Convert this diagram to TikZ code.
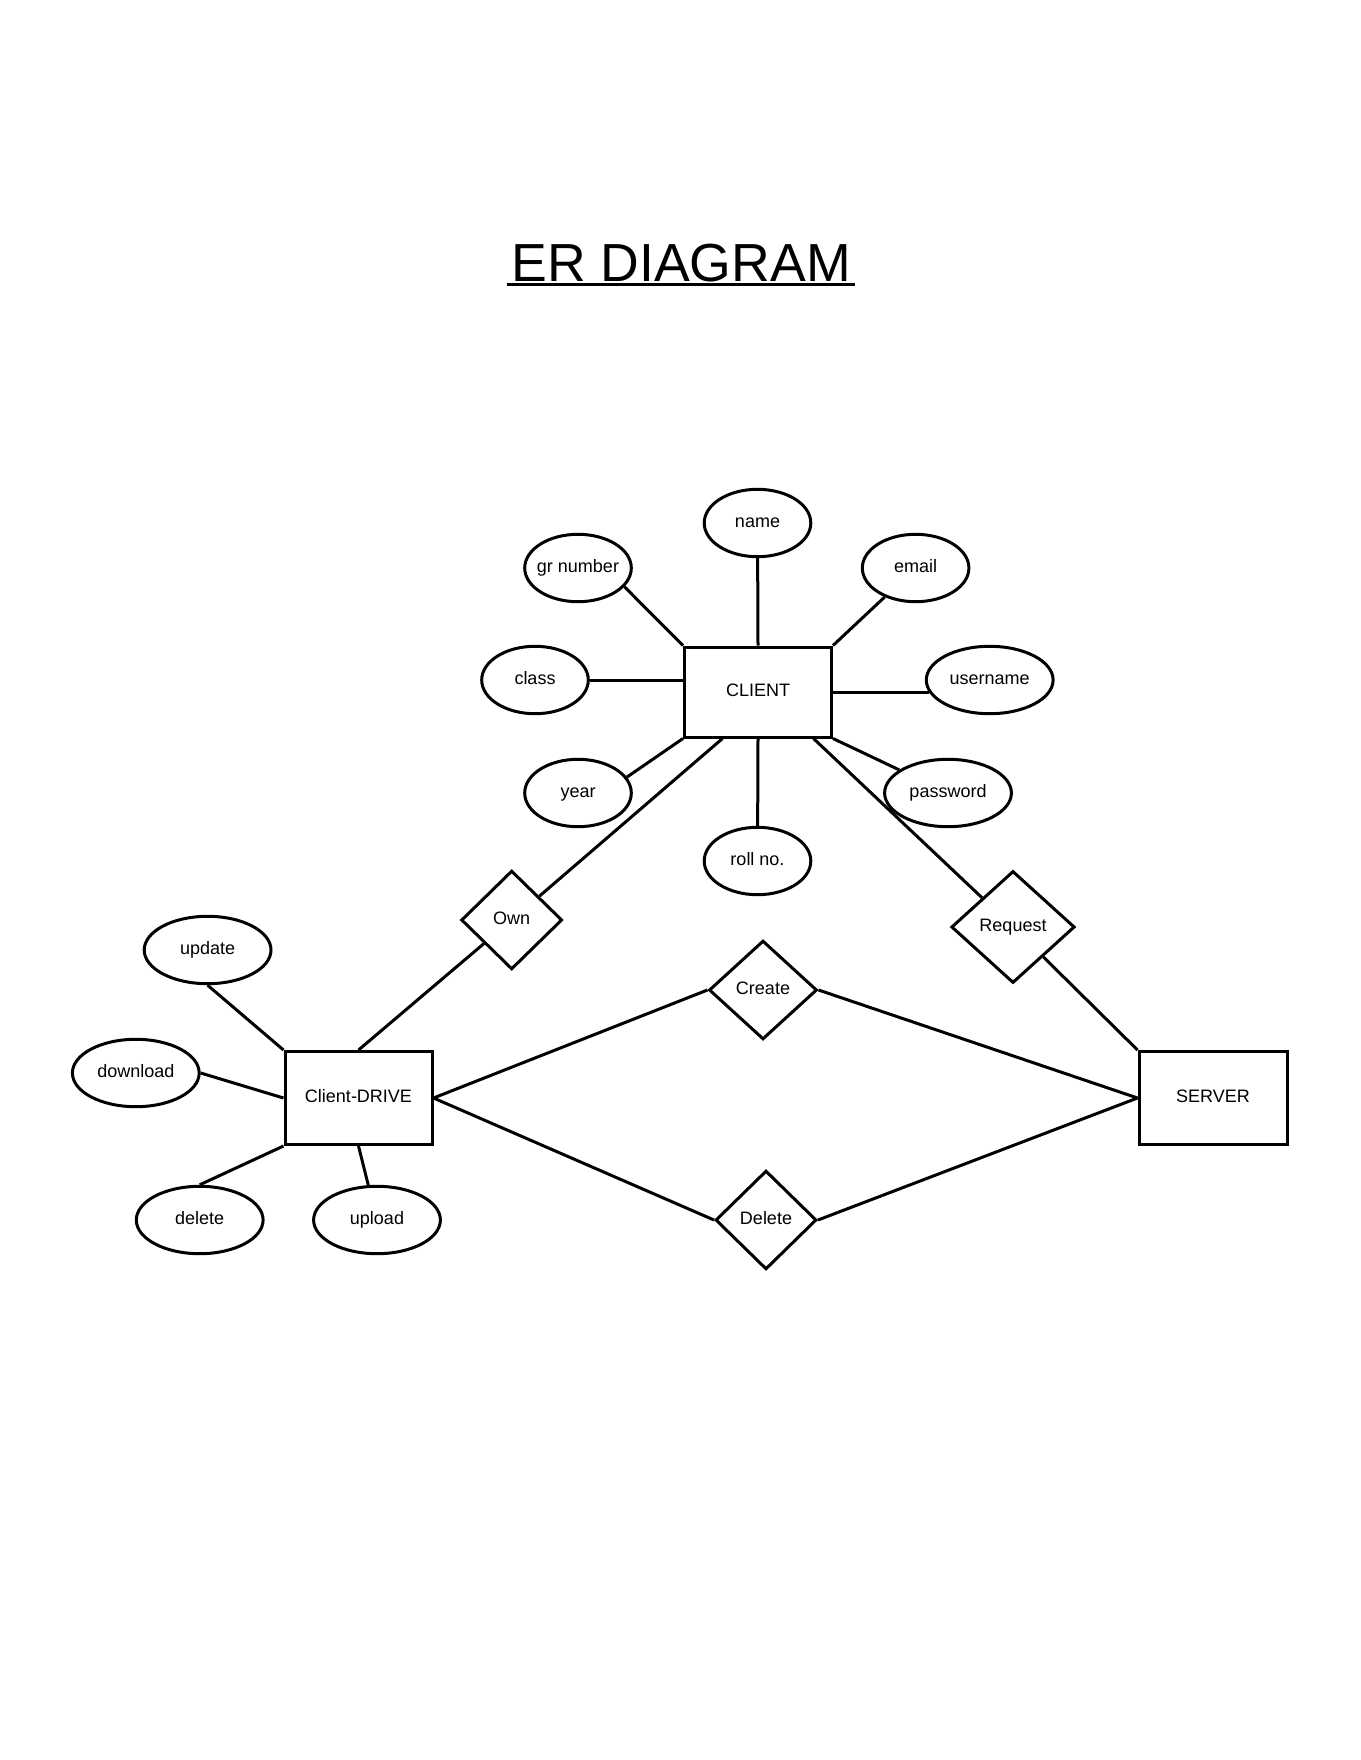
\documentclass[tikz,border=0pt]{standalone}
\usepackage{fontspec}
\setmainfont{Liberation Sans}
\usetikzlibrary{shapes.geometric}

\begin{document}
\begin{tikzpicture}[x=0.5pt,y=-0.5pt,line width=1.5pt,
	every node/.style={font=\fontsize{9}{11}\selectfont,inner sep=0pt},
	box/.style={text height=7pt,text depth=2.8pt},
	entity/.style={box,draw,rectangle,minimum width=73.5pt,minimum height=45pt},
	attr/.style={box,draw,ellipse,minimum width=53.3pt,minimum height=33.7pt},
	wideattr/.style={attr,minimum width=63.4pt},
	rel/.style={box,draw,diamond,minimum width=50.5pt,minimum height=49.4pt}]
	\useasboundingbox (0,0) rectangle (1360,1760);
	\node[anchor=base,font=\fontsize{26.8}{30}\selectfont] (title) at (681,281) {ER DIAGRAM};
	\draw[line width=1.7pt] ([xshift=-1.5pt,yshift=-1.8pt]title.base west) -- ([xshift=1.5pt,yshift=-1.8pt]title.base east);
	\node[entity] (client) at (758,692) {CLIENT};
	\node[entity,minimum height=46.5pt] (drive) at (358.5,1098) {Client-DRIVE};
	\node[entity,minimum width=74pt,minimum height=46.5pt] (server) at (1213,1098) {SERVER};
	\node[attr] (name) at (757.5,523) {name};
	\node[attr,inner xsep=-1.7pt] (gr) at (578,568) {gr number};
	\node[attr] (email) at (915.6,568) {email};
	\node[attr] (class) at (535,680) {class};
	\node[wideattr] (username) at (989.7,680) {username};
	\node[attr] (year) at (578,793) {year};
	\node[wideattr] (password) at (948,793) {password};
	\node[attr] (roll) at (757.5,861) {roll no.};
	\node[wideattr] (upd) at (207.6,950) {update};
	\node[wideattr] (dl) at (135.8,1073) {download};
	\node[wideattr] (del) at (199.7,1220) {delete};
	\node[wideattr] (upl) at (377,1220) {upload};
	\node[rel] (own) at (511.7,920) {Own};
	\node[rel,minimum width=61.7pt,minimum height=56pt] (request) at (1013,927) {Request};
	\node[rel,minimum width=54pt] (create) at (763,990) {Create};
	\node[rel] (delete) at (766,1220) {Delete};
	\draw (client.north) -- (name);
	\draw (client.north west) -- (gr.-22);
	\draw (client.north east) -- (email);
	\draw (class.east) -- (class.east -| client.west);
	\draw (client.east) -- ([xshift=2pt]client.east -| username.west);
	\draw (client.south west) -- (year.18);
	\draw (client.south east) -- (password);
	\draw (client.south) -- (roll);
	\draw ([xshift=19.75pt]client.south west) -- (own);
	\draw (own) -- (drive.north);
	\draw ([xshift=-9.75pt]client.south east) -- (request);
	\draw (request) -- (server.north west);
	\draw (drive.east) -- (create.west);
	\draw (create.east) -- (server.west);
	\draw (drive.east) -- (delete.west);
	\draw (delete.east) -- (server.west);
	\draw (upd.south) -- (drive.north west);
	\draw (dl.east) -- (drive.west);
	\draw (del.north) -- (drive.south west);
	\draw (drive.south) -- (upl);
\end{tikzpicture}
\end{document}
